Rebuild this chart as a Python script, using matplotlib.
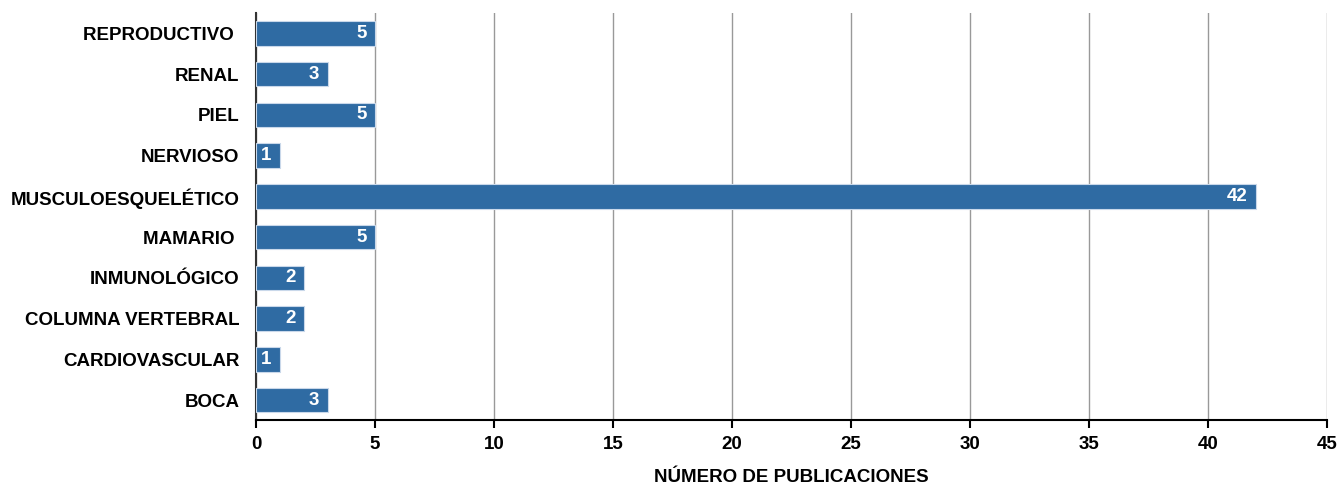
import matplotlib.pyplot as plt

plt.rcParams['font.family'] = ['Liberation Sans', 'DejaVu Sans']

categorias = ['BOCA', 'CARDIOVASCULAR', 'COLUMNA VERTEBRAL', 'INMUNOLÓGICO', 'MAMARIO ',
              'MUSCULOESQUELÉTICO', 'NERVIOSO', 'PIEL', 'RENAL', 'REPRODUCTIVO ']
publicaciones = [3, 1, 2, 2, 5, 42, 1, 5, 3, 5]
xticks = [0, 5, 10, 15, 20, 25, 30, 35, 40, 45]

fig, ax = plt.subplots(figsize=(13.41, 4.86), dpi=100)
fig.subplots_adjust(left=0.191, right=0.9895, top=0.973, bottom=0.135)

y = range(len(categorias))
ax.barh(y, publicaciones, height=0.6, color='#2f6ba3', edgecolor='#c9d8ea',
        linewidth=0.8, zorder=3)

for i, v in enumerate(publicaciones):
    ax.text(v - 0.35, i, str(v), ha='right', va='center', color='white',
            fontsize=13.5, fontweight='bold', zorder=4)

ax.set_xlim(0, 45)
ax.set_ylim(-0.5, 9.5)
ax.set_xticks(xticks)
ax.set_yticks(list(y))
ax.set_yticklabels(categorias, fontsize=13.5, fontweight='bold')
for lab in ax.get_xticklabels():
    lab.set_fontweight('bold')
ax.tick_params(axis='x', labelsize=13.5, length=6, width=1.5, direction='out', pad=5)
ax.tick_params(axis='y', length=0, pad=12)

ax.grid(axis='x', color='#999999', linewidth=1, zorder=0)
ax.spines['top'].set_visible(False)
ax.spines['right'].set_visible(False)
ax.spines['left'].set_color('#333333')
ax.spines['left'].set_linewidth(1.5)
ax.spines['bottom'].set_linewidth(1.5)

ax.set_xlabel('NÚMERO DE PUBLICACIONES', fontsize=13.5, fontweight='bold', labelpad=12)

fig.savefig('out.png', dpi=100)
